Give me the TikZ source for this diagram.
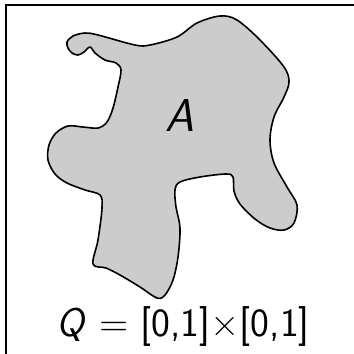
\documentclass[tikz,border=0pt]{standalone}
\usepackage{fontspec}
\begin{document}
\begin{tikzpicture}[x=1pt,y=-1pt,
  blob/.style={draw=black,fill=black!20,line width=1.6pt,line join=round},
  frame/.style={draw=black,line width=2.6pt},
  lbl/.style={font=\sffamily\fontsize{40}{44}\selectfont,inner sep=0pt}]
\useasboundingbox (0,0) rectangle (354,354);
\clip (0,0) rectangle (354,354);
\draw[frame] (6,5) rectangle (370,370);
\draw[blob] plot[smooth cycle,tension=0.55] coordinates {
 (67,42) (73,36) (85,33) (98,35) (135,45) (150,45) (177,37) (197,23)
 (220,16) (237,20) (260,40) (284,67) (289,82) (284,97) (274,117) (270,140)
 (274,163) (287,187) (297,205) (294,223) (284,230) (270,228) (255,219)
 (240,204) (234,191) (233,177) (226,174) (200,177) (180,182) (175,190)
 (176,207) (180,228) (178,257) (173,280) (165,295) (157,298) (140,287)
 (120,275) (106,268) (93,264) (98,240) (102,208) (100,195) (85,190)
 (67,183) (55,174) (48,160) (49,145) (56,133) (68,126) (83,127) (98,128)
 (107,122) (113,108) (118,87) (121,70) (116,63) (105,60) (95,53) (90,47)
 (84,52) (78,55) (72,53) (68,48)};
\node[lbl,font=\sffamily\fontsize{46}{50}\selectfont,anchor=base] (A) at (180,131) {\textit{A}};
\node[lbl,anchor=base] (Q) at (183,336) {\textit{Q} = [0,1]×[0,1]};
\end{tikzpicture}
\end{document}
